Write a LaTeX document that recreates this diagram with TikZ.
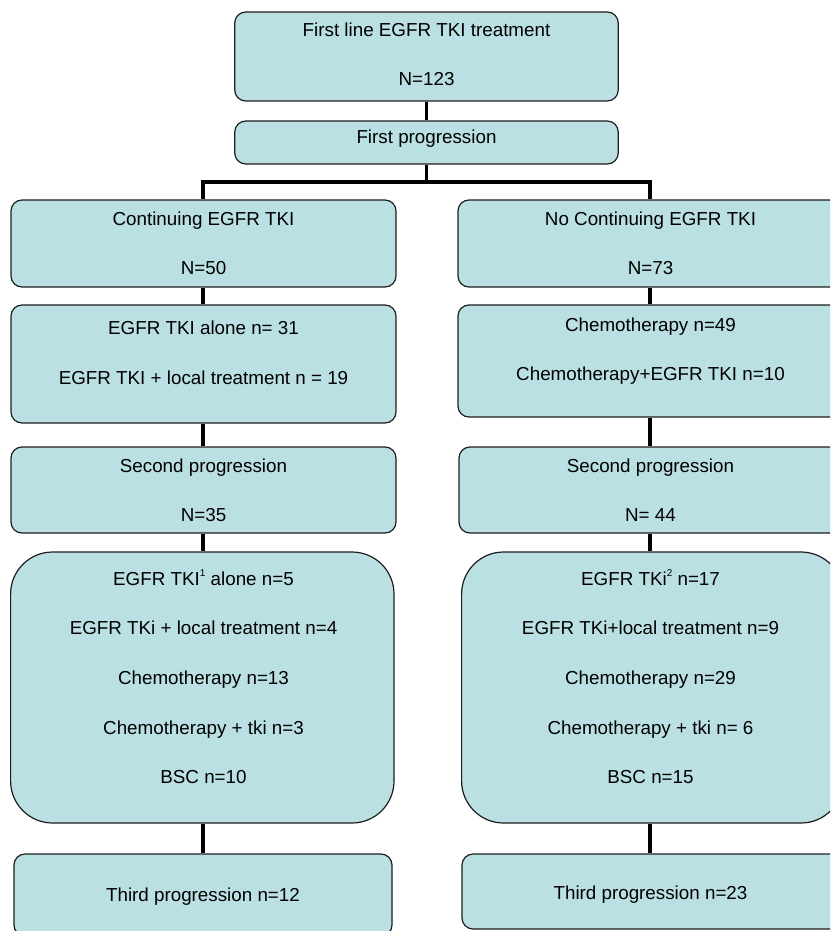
\documentclass[tikz,border=0pt]{standalone}
\usepackage{fontspec}
\setmainfont{Liberation Sans}
\definecolor{boxfill}{RGB}{187,224,227}
\definecolor{boxline}{RGB}{30,30,30}
\newcommand{\supnum}[1]{\raisebox{0.45em}{\fontsize{10}{10}\selectfont #1}}
\begin{document}
\begin{tikzpicture}[x=1pt,y=-1pt,
  box/.style={draw=boxline,line width=1.2pt,fill=boxfill,rounded corners=11pt,inner sep=0pt},
  bigbox/.style={box,rounded corners=42pt},
  lbl/.style={anchor=base,inner sep=0pt,font=\fontsize{18.8}{22}\selectfont},
  conn/.style={line width=3.6pt,black}]
\useasboundingbox (0,0) rectangle (830,931);
\clip (0,0) rectangle (830,931);
% boxes
\node[box,minimum width=383.5pt,minimum height=89pt] (top) at (426.5,56.5) {};
\node[box,minimum width=383.5pt,minimum height=43pt] (fp) at (426.5,142.5) {};
\node[box,minimum width=385pt,minimum height=87pt] (L1) at (203.5,243.5) {};
\node[box,minimum width=385pt,minimum height=87pt] (R1) at (650.5,243.5) {};
\node[box,minimum width=385pt,minimum height=118pt] (L2) at (203.5,364) {};
\node[box,minimum width=385pt,minimum height=112pt] (R2) at (650.5,361) {};
\node[box,minimum width=385pt,minimum height=86pt] (L3) at (203.5,490) {};
\node[box,minimum width=384pt,minimum height=86pt] (R3) at (651,490) {};
\node[bigbox,minimum width=383.4pt,minimum height=271pt] (L4) at (202.3,687.5) {};
\node[bigbox,minimum width=381.4pt,minimum height=271pt] (R4) at (652.3,687.5) {};
\node[box,minimum width=378pt,minimum height=82pt] (L5) at (203,895) {};
\node[box,minimum width=381pt,minimum height=75pt] (R5) at (652.5,891.5) {};
% labels
\node[lbl] (t1) at (426.5,37) {First line EGFR TKI treatment};
\node[lbl] (t2) at (426.5,86) {N=123};
\node[lbl] (fpl) at (426.5,143) {First progression};
\node[lbl] (l1a) at (203.5,225) {Continuing EGFR TKI};
\node[lbl] (l1b) at (203.5,274) {N=50};
\node[lbl] (r1a) at (650.5,225) {No Continuing EGFR TKI};
\node[lbl] (r1b) at (650.5,274) {N=73};
\node[lbl] (l2a) at (203.5,334) {EGFR TKI alone n= 31};
\node[lbl] (l2b) at (203.5,384) {EGFR TKI + local treatment n = 19};
\node[lbl] (r2a) at (650.5,331) {Chemotherapy n=49};
\node[lbl] (r2b) at (650.5,380) {Chemotherapy+EGFR TKI n=10};
\node[lbl] (l3a) at (203.5,472) {Second progression};
\node[lbl] (l3b) at (203.5,521) {N=35};
\node[lbl] (r3a) at (650.5,472) {Second progression};
\node[lbl] (r3b) at (650.5,521) {N= 44};
\node[lbl] (l4a) at (203.5,585) {EGFR TKI\supnum{1} alone n=5};
\node[lbl] (l4b) at (203.5,634) {EGFR TKi + local treatment n=4};
\node[lbl] (l4c) at (203.5,684) {Chemotherapy n=13};
\node[lbl] (l4d) at (203.5,734) {Chemotherapy + tki n=3};
\node[lbl] (l4e) at (203.5,783) {BSC n=10};
\node[lbl] (r4a) at (650.5,585) {EGFR TKi\supnum{2} n=17};
\node[lbl] (r4b) at (650.5,634) {EGFR TKi+local treatment n=9};
\node[lbl] (r4c) at (650.5,684) {Chemotherapy n=29};
\node[lbl] (r4d) at (650.5,734) {Chemotherapy + tki n= 6};
\node[lbl] (r4e) at (650.5,783) {BSC n=15};
\node[lbl] (l5a) at (203,901) {Third progression n=12};
\node[lbl] (r5a) at (650.5,899) {Third progression n=23};
% connectors
\coordinate (jn) at (426.5,182);
\coordinate (jl) at (203,182);
\coordinate (jr) at (650,182);
\draw[conn] (top.south) -- (fp.north);
\draw[conn] (fp.south) -- (jn);
\draw[conn,line cap=rect] (jl) -- (jr);
\draw[conn] (jl) -- (jl |- L1.north);
\draw[conn] (jr) -- (jr |- R1.north);
\draw[conn] (jl |- L1.south) -- (jl |- L2.north);
\draw[conn] (jl |- L2.south) -- (jl |- L3.north);
\draw[conn] (jl |- L3.south) -- (jl |- L4.north);
\draw[conn] (jl |- L4.south) -- (jl |- L5.north);
\draw[conn] (jr |- R1.south) -- (jr |- R2.north);
\draw[conn] (jr |- R2.south) -- (jr |- R3.north);
\draw[conn] (jr |- R3.south) -- (jr |- R4.north);
\draw[conn] (jr |- R4.south) -- (jr |- R5.north);
\end{tikzpicture}
\end{document}
